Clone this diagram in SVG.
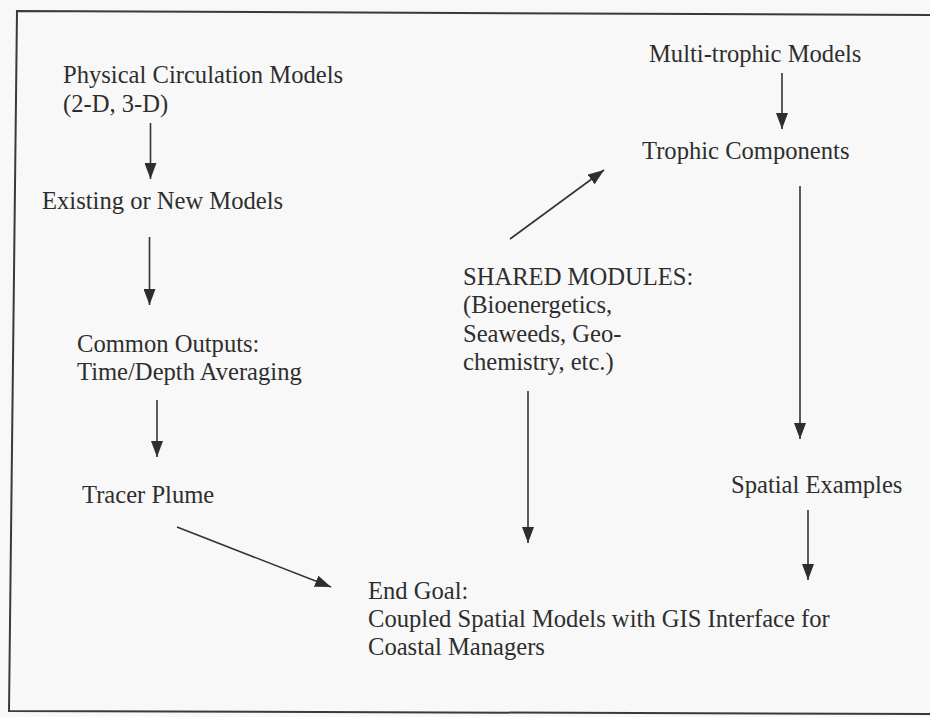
<svg xmlns="http://www.w3.org/2000/svg" width="930" height="717" viewBox="0 0 930 717">
  <style>
    .t { font-family: "Liberation Serif", "Times New Roman", serif; font-size: 24.6px; fill: #2e2e2e; }
    .c { stroke: #333; stroke-width: 1.6; fill: none; marker-end: url(#ah); }
    .frame { stroke: #3a3a3a; stroke-width: 2; fill: none; }
  </style>
  <defs>
    <marker id="ah" markerUnits="userSpaceOnUse" markerWidth="16" markerHeight="12" refX="16" refY="6" orient="auto">
      <path d="M0,0 L16,6 L0,12 z" fill="#2e2e2e"/>
    </marker>
  </defs>
  <rect x="0" y="0" width="930" height="717" fill="#f8f8f8"/>
  <path class="frame" d="M932,15 L17,11 L9,711 L932,714"/>

  <g id="physical">
    <text class="t" x="63" y="83">Physical Circulation Models</text>
    <text class="t" x="63" y="111.5">(2-D, 3-D)</text>
  </g>
  <g id="existing">
    <text class="t" x="42" y="209">Existing or New Models</text>
  </g>
  <g id="common">
    <text class="t" x="77" y="352">Common Outputs:</text>
    <text class="t" x="77" y="380">Time/Depth Averaging</text>
  </g>
  <g id="tracer">
    <text class="t" x="82" y="503">Tracer Plume</text>
  </g>
  <g id="shared">
    <text class="t" x="463" y="285">SHARED MODULES:</text>
    <text class="t" x="463" y="313">(Bioenergetics,</text>
    <text class="t" x="463" y="342">Seaweeds, Geo-</text>
    <text class="t" x="463" y="370">chemistry, etc.)</text>
  </g>
  <g id="multitrophic">
    <text class="t" x="649" y="62">Multi-trophic Models</text>
  </g>
  <g id="trophic">
    <text class="t" x="642" y="159">Trophic Components</text>
  </g>
  <g id="spatial">
    <text class="t" x="731" y="493">Spatial Examples</text>
  </g>
  <g id="endgoal">
    <text class="t" x="368" y="599">End Goal:</text>
    <text class="t" x="368" y="627">Coupled Spatial Models with GIS Interface for</text>
    <text class="t" x="368" y="655">Coastal Managers</text>
  </g>

  <g id="connectors">
    <line class="c" x1="150.5" y1="123" x2="150.5" y2="179"/>
    <line class="c" x1="149.5" y1="237" x2="149.5" y2="305"/>
    <line class="c" x1="157" y1="400" x2="157" y2="457"/>
    <line class="c" x1="177" y1="527" x2="331" y2="587"/>
    <line class="c" x1="510" y1="239" x2="604" y2="170"/>
    <line class="c" x1="782" y1="73" x2="782" y2="129"/>
    <line class="c" x1="800" y1="186" x2="800" y2="439"/>
    <line class="c" x1="528" y1="391" x2="528" y2="543"/>
    <line class="c" x1="808" y1="510" x2="808" y2="580"/>
  </g>
</svg>
